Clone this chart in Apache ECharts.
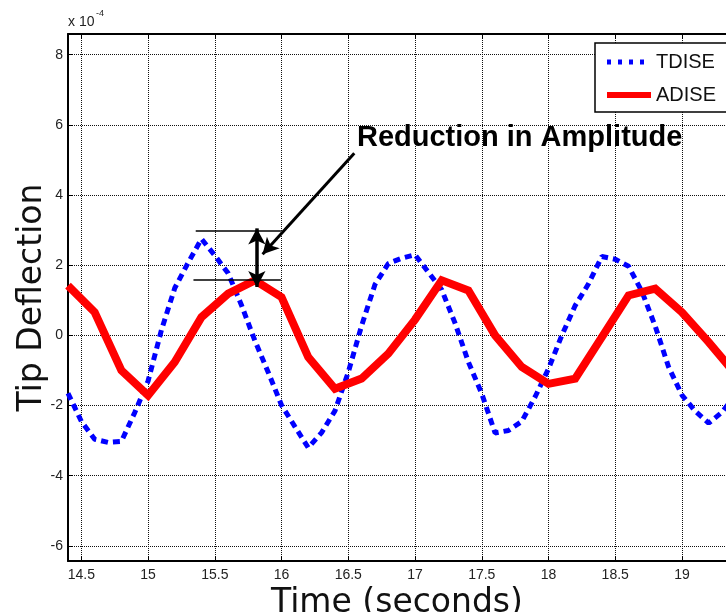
<!DOCTYPE html>
<html>
<head>
<meta charset="utf-8">
<script src="https://cdn.jsdelivr.net/npm/echarts@6/dist/echarts.min.js"></script>
<style>
  html, body { margin: 0; padding: 0; background: #fff; }
  #chart { width: 726px; height: 612px; }
</style>
</head>
<body>
<div id="chart"></div>
<script>
// TDISE (blue dotted), sampled every 0.1 s
const tdiseTime = [14.4, 14.5, 14.6, 14.7, 14.8, 14.9, 15.0, 15.1, 15.2, 15.3,
  15.4, 15.5, 15.6, 15.7, 15.8, 15.9, 16.0, 16.1, 16.2, 16.3,
  16.4, 16.5, 16.6, 16.7, 16.8, 16.9, 17.0, 17.1, 17.2, 17.3,
  17.4, 17.5, 17.6, 17.7, 17.8, 17.9, 18.0, 18.1, 18.2, 18.3,
  18.4, 18.5, 18.6, 18.7, 18.8, 18.9, 19.0, 19.1, 19.2, 19.3, 19.4]
const tdiseValues = [-1.65, -2.45, -2.96, -3.05, -3.02, -2.2, -1.3, 0.15, 1.35, 2.07,
  2.75, 2.28, 1.77, 0.86, -0.15, -1.05, -1.99, -2.6, -3.2, -2.77,
  -2.15, -1.05, 0.28, 1.45, 2.05, 2.2, 2.3, 1.8, 1.3, 0.35,
  -0.76, -1.66, -2.78, -2.71, -2.45, -1.75, -0.95, 0.0, 0.85, 1.47,
  2.25, 2.17, 1.97, 1.25, 0.26, -0.9, -1.7, -2.16, -2.5, -2.19, -1.7]

// ADISE (red solid), sampled every 0.2 s
const adiseTime = [14.4, 14.6, 14.8, 15.0, 15.2, 15.4, 15.6, 15.8, 16.0, 16.2,
  16.4, 16.6, 16.8, 17.0, 17.2, 17.4, 17.6, 17.8, 18.0, 18.2,
  18.4, 18.6, 18.8, 19.0, 19.2, 19.4]
const adiseValues = [1.42, 0.66, -1.0, -1.71, -0.76, 0.52, 1.19, 1.57, 1.09, -0.62,
  -1.52, -1.23, -0.52, 0.45, 1.57, 1.28, 0.0, -0.9, -1.38, -1.23,
  -0.05, 1.14, 1.33, 0.66, -0.19, -1.1]

const xTicks = [14.5, 15, 15.5, 16, 16.5, 17, 17.5, 18, 18.5, 19]
const yTicks = [-6, -4, -2, 0, 2, 4, 6, 8]

const tdiseData = tdiseTime.map((t, i) => [t, tdiseValues[i]])
const adiseData = adiseTime.map((t, i) => [t, adiseValues[i]])

const myChart = echarts.init(document.getElementById('chart'))

const gridLine = { show: true, lineStyle: { color: '#111', width: 1, type: [1, 1] } }
const tickFont = { fontFamily: 'Liberation Sans', fontSize: 14, color: '#222' }

// annotation pieces, in data units (x1e-4)
const thin = { color: '#000', width: 1.6, type: 'solid' }
const thick = { color: '#000', width: 3.5, type: 'solid' }

const option = {
  animation: false,
  backgroundColor: '#fff',
  grid: { left: 68, right: 0, top: 34, bottom: 51, outerBoundsMode: 'none' },
  legend: {
    data: [
      { name: 'TDISE', itemStyle: { opacity: 0 }, lineStyle: { width: 5, type: [4, 7] } },
      { name: 'ADISE', itemStyle: { opacity: 0 }, lineStyle: { width: 6 } }
    ],
    orient: 'vertical',
    left: 595,
    top: 43,
    padding: [9, 20, 7, 9],
    itemWidth: 44,
    itemHeight: 16,
    itemGap: 13,
    backgroundColor: '#fff',
    borderColor: '#000',
    borderWidth: 1.5,
    textStyle: { fontFamily: 'Liberation Sans', fontSize: 20, color: '#111', lineHeight: 20 }
  },
  xAxis: [
    {
      type: 'value',
      min: 14.4,
      max: 19.33,
      name: 'Time (seconds)',
      nameLocation: 'middle',
      nameGap: 21,
      nameTextStyle: { fontFamily: 'DejaVu Sans', fontSize: 33, color: '#111' },
      axisLine: { show: true, onZero: false, lineStyle: { color: '#000', width: 2 } },
      axisTick: { show: true, inside: true, length: 5, customValues: xTicks, lineStyle: { color: '#000' } },
      axisLabel: { ...tickFont, margin: 7, customValues: xTicks },
      splitLine: gridLine
    },
    {
      type: 'value',
      position: 'top',
      min: 14.4,
      max: 19.33,
      axisLine: { show: true, onZero: false, lineStyle: { color: '#000', width: 2 } },
      axisTick: { show: true, inside: true, length: 5, customValues: xTicks, lineStyle: { color: '#000' } },
      axisLabel: { show: false },
      splitLine: { show: false }
    }
  ],
  yAxis: {
    type: 'value',
    min: -6.43,
    max: 8.59,
    name: 'Tip Deflection',
    nameLocation: 'middle',
    nameGap: 19,
    nameMoveOverlap: false,
    nameTextStyle: { fontFamily: 'DejaVu Sans', fontSize: 33, color: '#111' },
    axisLine: { show: true, onZero: false, lineStyle: { color: '#000', width: 2 } },
    axisTick: { show: true, inside: true, length: 5, customValues: yTicks, lineStyle: { color: '#000' } },
    axisLabel: { ...tickFont, margin: 5, customValues: yTicks },
    splitLine: gridLine
  },
  graphic: [
    { type: 'text', left: 68, top: 15, style: { text: 'x 10', fontFamily: 'Liberation Sans', fontSize: 14, fill: '#222' } },
    { type: 'text', left: 96, top: 9, style: { text: '-4', fontFamily: 'Liberation Sans', fontSize: 9, fill: '#222' } }
  ],
  series: [
    {
      name: 'TDISE',
      type: 'line',
      data: tdiseData,
      symbol: 'none',
      lineStyle: { color: '#0000ff', width: 5, type: [7, 5], cap: 'butt' },
      itemStyle: { color: '#0000ff' },
      z: 3
    },
    {
      name: 'ADISE',
      type: 'line',
      data: adiseData,
      symbol: 'none',
      lineStyle: { color: '#ff0000', width: 8, join: 'miter' },
      itemStyle: { color: '#ff0000' },
      z: 4
    },
    {
      name: 'annotation',
      type: 'line',
      data: [],
      z: 5,
      markLine: {
        silent: true,
        label: { show: false },
        emphasis: { disabled: true },
        symbolSize: [13, 16],
        data: [
          [{ coord: [15.357, 2.97], symbol: 'none', lineStyle: thin }, { coord: [15.995, 2.97], symbol: 'none' }],
          [{ coord: [15.34, 1.587], symbol: 'none', lineStyle: thin }, { coord: [15.995, 1.587], symbol: 'none' }],
          [{ coord: [15.815, 3.05], symbol: 'arrow', lineStyle: thick }, { coord: [15.815, 1.38], symbol: 'arrow' }],
          [{ coord: [16.545, 5.19], symbol: 'none', lineStyle: { color: '#000', width: 3, type: 'solid' } }, { coord: [15.858, 2.31], symbol: 'arrow' }]
        ]
      },
      markPoint: {
        silent: true,
        symbol: 'rect',
        symbolSize: 0,
        data: [{
          coord: [17.784, 5.64],
          label: {
            show: true,
            position: 'inside',
            formatter: 'Reduction in Amplitude',
            fontFamily: 'Liberation Sans',
            fontWeight: 'bold',
            fontSize: 29,
            color: '#000'
          }
        }]
      }
    }
  ]
}

myChart.setOption(option)
window.addEventListener('resize', () => {
  myChart?.resize()
})
</script>
</body>
</html>
